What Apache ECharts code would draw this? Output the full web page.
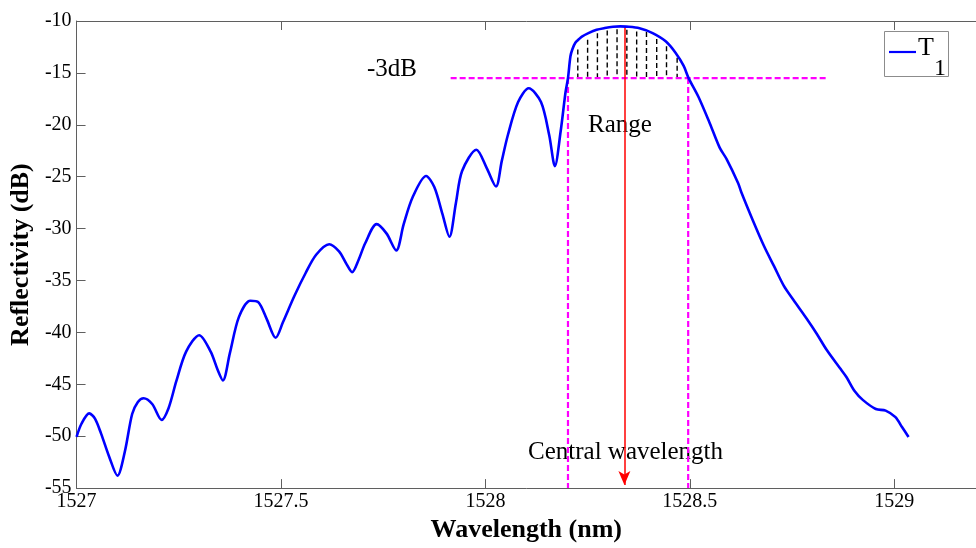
<!DOCTYPE html>
<html>
<head>
<meta charset="utf-8">
<script src="https://cdn.jsdelivr.net/npm/echarts@6/dist/echarts.min.js"></script>
<style>
html,body{margin:0;padding:0;background:#fff;}
#chart{width:976px;height:548px;}
</style>
</head>
<body>
<div id="chart"></div>
<script>
// ---- data ----
const wavelength = [
  1527.000, 1527.012, 1527.031, 1527.045, 1527.060, 1527.080, 1527.100, 1527.118, 1527.136, 1527.150,
  1527.164, 1527.185, 1527.208, 1527.225, 1527.244, 1527.268, 1527.300, 1527.328, 1527.345, 1527.358,
  1527.375, 1527.397, 1527.425, 1527.445, 1527.465, 1527.487, 1527.505, 1527.533, 1527.560, 1527.586,
  1527.618, 1527.642, 1527.660, 1527.674, 1527.690, 1527.706, 1527.734, 1527.758, 1527.782, 1527.800,
  1527.822, 1527.855, 1527.875, 1527.895, 1527.912, 1527.928, 1527.943, 1527.978, 1528.003, 1528.026,
  1528.040, 1528.055, 1528.080, 1528.106, 1528.136, 1528.156, 1528.170, 1528.184, 1528.196, 1528.202,
  1528.208, 1528.213, 1528.220, 1528.228, 1528.236, 1528.252, 1528.272, 1528.292, 1528.312, 1528.330,
  1528.345, 1528.377, 1528.409, 1528.441, 1528.465, 1528.485, 1528.497, 1528.521, 1528.549, 1528.573,
  1528.590, 1528.618, 1528.626, 1528.654, 1528.682, 1528.706, 1528.730, 1528.754, 1528.786, 1528.810,
  1528.835, 1528.867, 1528.883, 1528.903, 1528.923, 1528.955, 1528.979, 1529.003, 1529.019, 1529.035
];
const reflectivity = [
  -50.07, -48.80, -47.80, -48.30, -49.75, -52.00, -53.80, -51.50, -47.86, -46.70,
  -46.34, -46.90, -48.43, -47.30, -44.70, -41.85, -40.27, -41.85, -43.60, -44.63,
  -42.00, -38.53, -36.95, -37.10, -38.70, -40.52, -39.00, -36.47, -34.30, -32.52,
  -31.51, -32.20, -33.40, -34.20, -33.00, -31.41, -29.57, -30.46, -32.10, -29.60,
  -26.98, -24.93, -26.00, -28.60, -30.78, -27.50, -24.45, -22.40, -24.14, -25.94,
  -23.50, -20.98, -17.81, -16.48, -17.81, -20.98, -23.98, -20.65, -16.86, -15.50,
  -13.40, -12.70, -12.10, -11.78, -11.50, -11.17, -10.85, -10.68, -10.56, -10.52,
  -10.54, -10.70, -11.17, -11.96, -13.06, -14.33, -15.50, -17.30, -19.87, -22.20,
  -23.30, -25.60, -26.50, -29.19, -31.73, -33.62, -35.52, -36.90, -38.68, -40.10,
  -41.70, -43.43, -44.30, -45.65, -46.50, -47.38, -47.54, -48.17, -49.12, -50.07
];
const threeDbLevel = -15.5;
const threeDbSpan = [1527.915, 1528.839];
const rangeEdges = [1528.202, 1528.496];
const centralWavelength = 1528.34;
const centralSpan = [-10.55, -54.7];
const hatchX = [1528.226, 1528.250, 1528.274, 1528.298, 1528.322, 1528.346, 1528.370, 1528.394, 1528.419, 1528.443, 1528.469];
const hatchTop = [-12.75, -11.80, -11.17, -10.92, -10.79, -10.85, -11.00, -11.07, -11.74, -12.44, -13.54];
const xRange = [1527, 1529.2];
const xStep = 0.5;
const yRange = [-55, -10];
const yStep = 5;
const seriesName = 'T';
const seriesSub = '1';

// ---- build chart ----
const curve = wavelength.map((w, i) => [w, reflectivity[i]]);
const hatchData = [];
hatchX.forEach((hx, i) => {
  hatchData.push([hx, hatchTop[i]], [hx, threeDbLevel], [hx, '-']);
});
const serif = 'Liberation Serif, Times New Roman, serif';
const axisGray = '#5f5f5f';
const magenta = '#ff00ff';
const blue = '#0000ff';

const chart = echarts.init(document.getElementById('chart'), null, {renderer: 'canvas'});
chart.setOption({
  animation: false,
  backgroundColor: '#fff',
  grid: {left: 72, top: 21, bottom: 53, width: 913, containLabel: false},
  xAxis: [{
    type: 'value', min: xRange[0], max: xRange[1], interval: xStep,
    name: 'Wavelength (nm)', nameLocation: 'middle', nameGap: 25,
    nameTextStyle: {fontFamily: serif, fontWeight: 'bold', fontSize: 26, color: '#000'},
    axisLine: {show: true, lineStyle: {color: axisGray, width: 1}},
    axisTick: {show: true, inside: true, length: 9, lineStyle: {color: axisGray}},
    axisLabel: {fontFamily: serif, fontSize: 20, color: '#000', margin: 4, showMaxLabel: false,
      formatter: v => String(Math.round(v * 10) / 10)},
    splitLine: {show: false}
  }, {
    type: 'value', position: 'top', min: xRange[0], max: xRange[1], interval: xStep,
    axisLine: {show: true, lineStyle: {color: axisGray, width: 1}},
    axisTick: {show: true, inside: true, length: 9, lineStyle: {color: axisGray}},
    axisLabel: {show: false}, splitLine: {show: false}
  }],
  yAxis: {
    type: 'value', min: yRange[0], max: yRange[1], interval: yStep,
    name: 'Reflectivity (dB)', nameLocation: 'middle', nameGap: 36,
    nameTextStyle: {fontFamily: serif, fontWeight: 'bold', fontSize: 26, color: '#000'},
    axisLine: {show: true, lineStyle: {color: axisGray, width: 1}},
    axisTick: {show: true, inside: true, length: 9, lineStyle: {color: axisGray}},
    axisLabel: {fontFamily: serif, fontSize: 20, color: '#000', margin: 5},
    splitLine: {show: false}
  },
  graphic: [
    {type: 'rect', left: 884, top: 31, z: 100,
      shape: {width: 64, height: 45}, style: {fill: '#fff', stroke: '#8c8c8c', lineWidth: 1}},
    {type: 'line', z: 101, shape: {x1: 889, y1: 52, x2: 916, y2: 52}, style: {stroke: blue, lineWidth: 2.2}},
    {type: 'text', left: 918, top: 35, z: 101, style: {text: seriesName, font: '26px ' + serif, fill: '#000'}},
    {type: 'text', left: 934, top: 57, z: 101, style: {text: seriesSub, font: '24px ' + serif, fill: '#000'}},
    {type: 'text', left: 367, top: 57, style: {text: '-3dB', font: '25px ' + serif, fill: '#000'}},
    {type: 'text', left: 588, top: 113, style: {text: 'Range', font: '25px ' + serif, fill: '#000'}},
    {type: 'text', left: 528, top: 440, style: {text: 'Central wavelength', font: '25px ' + serif, fill: '#000'}}
  ],
  series: [
    {
      name: 'hatch', type: 'line', data: hatchData, symbol: 'none', connectNulls: false,
      lineStyle: {color: '#000', width: 1.4, type: [5, 3]}, silent: true, z: 2
    },
    {
      name: '-3dB', type: 'line', symbol: 'none', silent: true, z: 3,
      data: [[threeDbSpan[0], threeDbLevel], [threeDbSpan[1], threeDbLevel]],
      lineStyle: {color: magenta, width: 2.2, type: [6, 3]}
    },
    {
      name: 'edgeL', type: 'line', symbol: 'none', silent: true, z: 3,
      data: [[rangeEdges[0], threeDbLevel], [rangeEdges[0], yRange[0]]],
      lineStyle: {color: magenta, width: 2.2, type: [6, 3]}
    },
    {
      name: 'edgeR', type: 'line', symbol: 'none', silent: true, z: 3,
      data: [[rangeEdges[1], threeDbLevel], [rangeEdges[1], yRange[0]]],
      lineStyle: {color: magenta, width: 2.2, type: [6, 3]}
    },
    {
      name: 'central', type: 'line', data: [], symbol: 'none', silent: true, z: 4,
      markLine: {
        silent: true, symbol: ['none', 'arrow'], symbolSize: [9, 14],
        label: {show: false},
        lineStyle: {color: '#ff0000', width: 1.5, type: 'solid'},
        data: [[{coord: [centralWavelength, centralSpan[0]]}, {coord: [centralWavelength, centralSpan[1]]}]]
      }
    },
    {
      name: 'T1', type: 'line', data: curve, symbol: 'none', smooth: 0.3, z: 5,
      itemStyle: {color: blue},
      lineStyle: {color: blue, width: 2.6}
    }
  ]
});
</script>
</body>
</html>
